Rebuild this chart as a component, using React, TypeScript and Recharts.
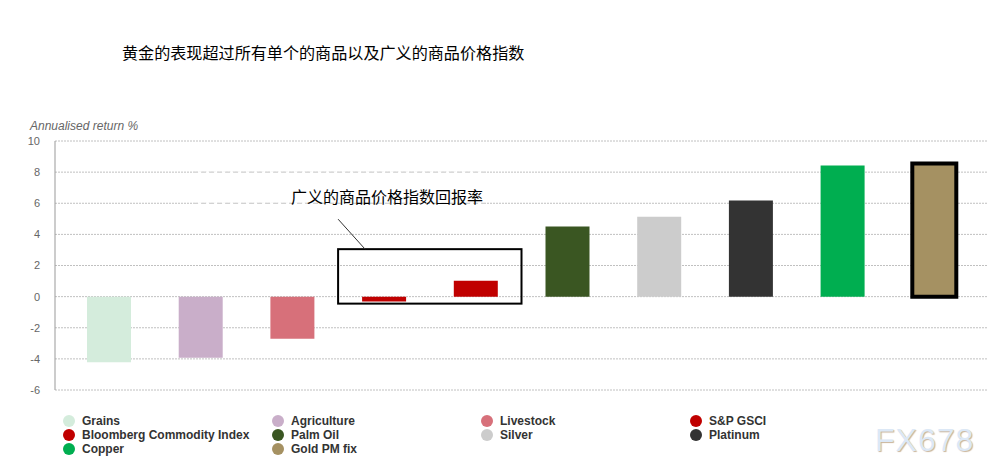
import React from "react";
import { BarChart, Bar, Cell, XAxis, YAxis, CartesianGrid, ReferenceArea } from "recharts";

const TITLE = "黄金的表现超过所有单个的商品以及广义的商品价格指数";
const Y_TITLE = "Annualised return %";
const ANNOTATION = "广义的商品价格指数回报率";

const CATEGORIES = [
  "Grains",
  "Agriculture",
  "Livestock",
  "S&P GSCI",
  "Bloomberg Commodity Index",
  "Palm Oil",
  "Silver",
  "Platinum",
  "Copper",
  "Gold PM fix",
];
const RETURNS = [-4.22, -3.92, -2.7, -0.32, 1.02, 4.5, 5.14, 6.17, 8.42, 8.55];
const COLORS = [
  "#d4ecdc",
  "#c9aec9",
  "#d7707a",
  "#c00000",
  "#c00000",
  "#3a5622",
  "#cccccc",
  "#333333",
  "#00ae50",
  "#a59162",
];
const Y_TICKS = [-6, -4, -2, 0, 2, 4, 6, 8, 10];

// the boxed pair of broad indices
const BOX_FROM = "S&P GSCI";
const BOX_TO = "Bloomberg Commodity Index";
const BOX_BOTTOM = -0.45;
const BOX_TOP = 3.05;
const DASHED_AT = [8, 6];

const chartData = CATEGORIES.map((name, i) => ({ name, value: RETURNS[i] }));

const FONT = "'Liberation Sans', Arial, sans-serif";
const CJK = "'Noto Sans CJK SC', 'Noto Sans', sans-serif";

const AnnotationShape = (props: any) => {
  const { x, y, width, height } = props;
  const left = x;
  const right = x + width;
  const unit = height / (BOX_TOP - BOX_BOTTOM);
  const yAt = (v: number) => y + (BOX_TOP - v) * unit;
  return (
    <g>
      {DASHED_AT.map((v) => (
        <g key={v}>
          <line x1={left - 145} x2={left + 147} y1={yAt(v)} y2={yAt(v)} stroke="#fff" strokeWidth={2} />
          <line
            x1={left - 145}
            x2={left + 147}
            y1={yAt(v)}
            y2={yAt(v)}
            stroke="#c4c4c4"
            strokeDasharray="5 3"
          />
        </g>
      ))}
      <rect x={left} y={y} width={right - left} height={height} fill="none" stroke="#000" strokeWidth={2} />
      <line x1={left} y1={y - 30} x2={left + 27} y2={y} stroke="#333" strokeWidth={1} />
      <text x={left - 47} y={y - 46} fontSize={16} fontFamily={CJK} fill="#000">
        {ANNOTATION}
      </text>
    </g>
  );
};

export default function App() {
  return (
    <div style={{ position: "relative", width: 1004, height: 475, background: "#fff", fontFamily: FONT }}>
      <style>{`body{margin:0}`}</style>
      <div
        style={{
          position: "absolute",
          left: 122,
          top: 41,
          fontSize: 16.1,
          fontFamily: CJK,
          color: "#000",
          whiteSpace: "nowrap",
          lineHeight: "22px",
        }}
      >
        {TITLE}
      </div>
      <div
        style={{
          position: "absolute",
          left: 30,
          top: 119,
          fontSize: 12,
          fontStyle: "italic",
          color: "#666",
          whiteSpace: "nowrap",
          lineHeight: "14px",
        }}
      >
        {Y_TITLE}
      </div>

      <BarChart
        width={1004}
        height={475}
        data={chartData}
        margin={{ top: 141, right: 16, bottom: 85, left: 10 }}
      >
        <CartesianGrid vertical={false} stroke="#c0c0c0" strokeDasharray="2 1" />
        <XAxis dataKey="name" type="category" hide padding={{ left: 8, right: 8 }} />
        <YAxis
          width={45}
          domain={[-6, 10]}
          ticks={Y_TICKS}
          interval={0}
          tickLine={false}
          tickMargin={9}
          axisLine={{ stroke: "#999" }}
          tick={{ fontSize: 11, fill: "#666", fontFamily: FONT }}
        />
        <Bar dataKey="value" barSize={44} isAnimationActive={false}>
          {chartData.map((d, i) => (
            <Cell
              key={d.name}
              fill={COLORS[i]}
              stroke={i === chartData.length - 1 ? "#000" : "none"}
              strokeWidth={i === chartData.length - 1 ? 4 : 0}
            />
          ))}
        </Bar>
        <ReferenceArea
          x1={BOX_FROM}
          x2={BOX_TO}
          y1={BOX_BOTTOM}
          y2={BOX_TOP}
          ifOverflow="visible"
          shape={AnnotationShape}
        />
      </BarChart>

      {CATEGORIES.map((name, i) => (
        <div
          key={name}
          style={{
            position: "absolute",
            left: 63 + (i % 4) * 209,
            top: 414 + Math.floor(i / 4) * 14,
            display: "flex",
            alignItems: "center",
            height: 14,
            whiteSpace: "nowrap",
          }}
        >
          <span
            style={{
              width: 12,
              height: 12,
              borderRadius: "50%",
              background: COLORS[i],
              display: "inline-block",
              marginRight: 7,
            }}
          />
          <span style={{ fontSize: 12, fontWeight: "bold", color: "#333" }}>{name}</span>
        </div>
      ))}

      <div
        style={{
          position: "absolute",
          left: 875,
          top: 420,
          fontSize: 32,
          letterSpacing: 1,
          color: "#dce8f6",
          textShadow: "1px 1px 1px #c9b49a",
          fontFamily: FONT,
          lineHeight: "40px",
        }}
      >
        FX678
      </div>
    </div>
  );
}
